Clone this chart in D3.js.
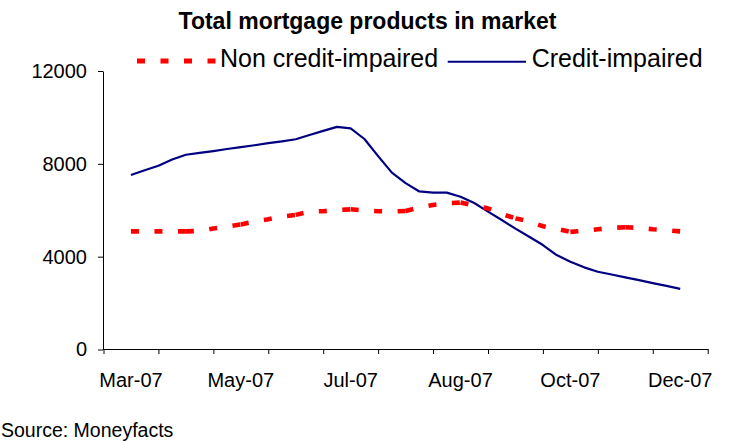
<!DOCTYPE html>
<html>
<head>
<meta charset="utf-8">
<script src="https://cdn.jsdelivr.net/npm/d3@7"></script>
<style>
  html, body { margin: 0; padding: 0; background: #ffffff; }
  svg { display: block; font-family: "Liberation Sans", Arial, Helvetica, sans-serif; }
</style>
</head>
<body>
<svg id="chart" width="730" height="441"></svg>
<script>
// Weekly counts of mortgage products on the market, 2007
const firstWeek = "2007-03-15";
const axisStart = "2007-03-01";
const axisEnd = "2008-01-03";
const tickStepDays = 28;

const tickLabels = ["Mar-07", "May-07", "Jul-07", "Aug-07", "Oct-07", "Dec-07"];
const tickLabelDates = ["2007-03-15", "2007-05-10", "2007-07-05", "2007-08-30", "2007-10-25", "2007-12-20"];
const yTicks = [0, 4000, 8000, 12000];

const seriesNames = ["Non credit-impaired", "Credit-impaired"];

const nonCreditImpaired = [
  5090, 5090, 5090, 5090, 5090, 5110, 5210, 5290, 5390, 5520,
  5610, 5730, 5800, 5950, 5960, 6010, 6040, 5990, 5960, 5950,
  5970, 6120, 6230, 6300, 6330, 6210, 6080, 5840, 5650, 5520,
  5310, 5200, 5070, 5110, 5180, 5240, 5270, 5240, 5180, 5140,
  5090
];

const creditImpaired = [
  7520, 7720, 7920, 8190, 8390, 8470, 8550, 8640, 8720, 8800,
  8890, 8970, 9060, 9240, 9420, 9590, 9530, 9070, 8330, 7620,
  7170, 6810, 6760, 6760, 6580, 6310, 5940, 5580, 5210, 4860,
  4500, 4070, 3780, 3540, 3350, 3230, 3110, 2990, 2860, 2740,
  2610
];

const parse = d3.utcParse("%Y-%m-%d");
const start = parse(firstWeek);
const weeks = creditImpaired.map((_, i) => d3.utcDay.offset(start, 7 * i));

const svg = d3.select("#chart");

const x = d3.scaleUtc()
  .domain([parse(axisStart), parse(axisEnd)])
  .range([103.5, 707.7]);

const y = d3.scaleLinear()
  .domain([0, 12000])
  .range([349.5, 71]);

const font = "\"Liberation Sans\", Arial, sans-serif";

// Title
svg.append("text")
  .attr("x", 367.5)
  .attr("y", 29.3)
  .attr("text-anchor", "middle")
  .style("font-size", "23px")
  .style("font-weight", "bold")
  .attr("fill", "#000")
  .text("Total mortgage products in market");

// Y axis
const yAxis = svg.append("g")
  .attr("transform", `translate(${Math.floor(x.range()[0])},0)`)
  .call(d3.axisLeft(y).tickValues(yTicks).tickSize(5).tickSizeOuter(0).tickPadding(11)
    .tickFormat(d3.format("d")));
yAxis.selectAll("text").style("font-size", "20px").style("font-family", font).attr("fill", "#000");
yAxis.selectAll("line,path").attr("stroke", "#000");

// X axis: tick marks every four weeks, month labels every other interval
const tickDates = d3.range(0, d3.utcDay.count(parse(axisStart), parse(axisEnd)) + 1, tickStepDays)
  .map(d => d3.utcDay.offset(parse(axisStart), d));

const xAxis = svg.append("g")
  .attr("transform", `translate(0,${Math.floor(y(0))})`)
  .call(d3.axisBottom(x).tickValues(tickDates).tickSize(5).tickSizeOuter(0).tickFormat(""));
xAxis.selectAll("line,path").attr("stroke", "#000");

svg.append("g")
  .selectAll("text")
  .data(tickLabels)
  .join("text")
  .attr("x", (d, i) => x(parse(tickLabelDates[i])))
  .attr("y", y(0) + 37)
  .attr("text-anchor", "middle")
  .style("font-size", "20px")
  .attr("fill", "#000")
  .text(d => d);

// Credit-impaired series
const line = d3.line()
  .x(d => x(d.date))
  .y(d => y(d.value));

const blueData = creditImpaired.map((v, i) => ({ date: weeks[i], value: v }));
svg.append("path")
  .datum(blueData)
  .attr("d", line)
  .attr("fill", "none")
  .attr("stroke", "#000080")
  .attr("stroke-width", 2.2)
  .attr("stroke-linejoin", "round");

// Non credit-impaired series, dashed, drawn in four-week runs
const redData = nonCreditImpaired.map((v, i) => ({ date: weeks[i], value: v }));
const runs = d3.range(0, redData.length - 1, 4).map(s => redData.slice(s, s + 5));
svg.append("g")
  .selectAll("path")
  .data(runs)
  .join("path")
  .attr("d", line)
  .attr("fill", "none")
  .attr("stroke", "#ff0000")
  .attr("stroke-width", 4.6)
  .attr("stroke-dasharray", "8,15.5")
  .attr("stroke-linecap", "butt");

// Legend
const legend = svg.append("g");
legend.append("line")
  .attr("x1", 137).attr("x2", 215.5)
  .attr("y1", 61).attr("y2", 61)
  .attr("stroke", "#ff0000")
  .attr("stroke-width", 5)
  .attr("stroke-dasharray", "8,15.5");
legend.append("text")
  .attr("x", 220).attr("y", 66.7)
  .style("font-size", "25px")
  .attr("fill", "#000")
  .text(seriesNames[0]);
legend.append("line")
  .attr("x1", 447.7).attr("x2", 526)
  .attr("y1", 61.7).attr("y2", 61.7)
  .attr("stroke", "#000080")
  .attr("stroke-width", 2);
legend.append("text")
  .attr("x", 531.7).attr("y", 66.7)
  .style("font-size", "25px")
  .attr("fill", "#000")
  .text(seriesNames[1]);

// Source note
svg.append("text")
  .attr("x", 1).attr("y", 437)
  .style("font-size", "19.5px")
  .attr("fill", "#000")
  .text("Source: Moneyfacts");
</script>
</body>
</html>
